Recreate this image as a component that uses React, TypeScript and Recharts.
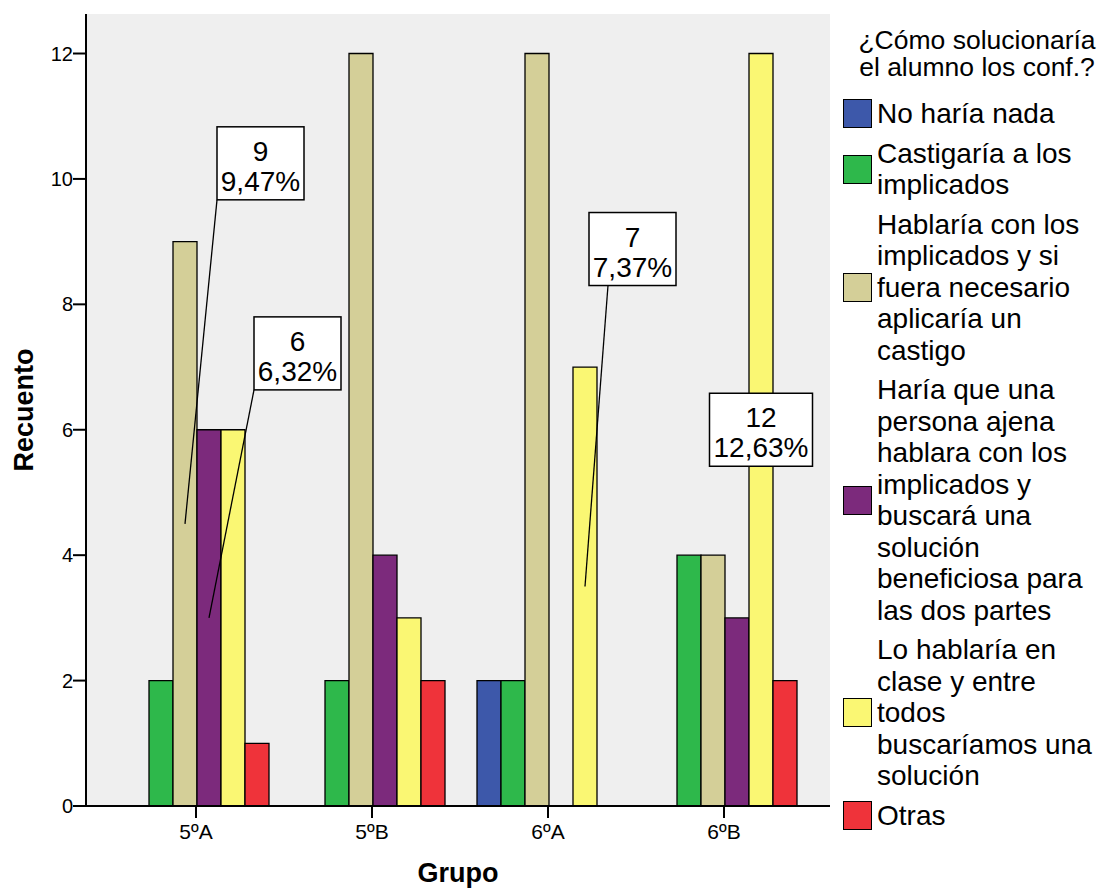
import React from 'react';
import { Bar, BarChart, XAxis, YAxis, CartesianGrid, LabelList } from 'recharts';

const groups = ['5ºA', '5ºB', '6ºA', '6ºB'];

const noHaria = [0, 0, 2, 0];
const castigaria = [2, 2, 2, 4];
const hablaria = [9, 12, 12, 4];
const hariaQue = [6, 4, 0, 3];
const loHablaria = [6, 3, 7, 12];
const otras = [1, 2, 0, 2];

const yTicks = [0, 2, 4, 6, 8, 10, 12];

const series = [
  { key: 'noHaria', name: 'No haría nada', values: noHaria, color: '#3d58aa', lines: ['No haría nada'] },
  { key: 'castigaria', name: 'Castigaría a los implicados', values: castigaria, color: '#2eb84b', lines: ['Castigaría a los', 'implicados'] },
  {
    key: 'hablaria',
    name: 'Hablaría con los implicados y si fuera necesario aplicaría un castigo',
    values: hablaria,
    color: '#d4cf98',
    lines: ['Hablaría con los', 'implicados y si', 'fuera necesario', 'aplicaría un', 'castigo'],
  },
  {
    key: 'hariaQue',
    name: 'Haría que una persona ajena hablara con los implicados y buscará una solución beneficiosa para las dos partes',
    values: hariaQue,
    color: '#7c2a7c',
    lines: ['Haría que una', 'persona ajena', 'hablara con los', 'implicados y', 'buscará una', 'solución', 'beneficiosa para', 'las dos partes'],
  },
  {
    key: 'loHablaria',
    name: 'Lo hablaría en clase y entre todos buscaríamos una solución',
    values: loHablaria,
    color: '#faf773',
    lines: ['Lo hablaría en', 'clase y entre', 'todos', 'buscaríamos una', 'solución'],
  },
  { key: 'otras', name: 'Otras', values: otras, color: '#ef333a', lines: ['Otras'] },
];

const data = groups.map((g, i) => {
  const row: { [k: string]: string | number } = { group: g };
  series.forEach((s) => (row[s.key] = s.values[i]));
  return row;
});

const total = series.reduce((acc, s) => acc + s.values.reduce((a, b) => a + b, 0), 0);

// callout boxes: offset of box top-left from the bar's mid point
const callouts = [
  { key: 'hablaria', group: 0, dx: 32, dy: -397, lineDx: 0 },
  { key: 'hariaQue', group: 0, dx: 45, dy: -301, lineDx: 0 },
  { key: 'loHablaria', group: 2, dx: 4, dy: -374, lineDx: 19 },
  { key: 'loHablaria', group: 3, center: true },
];

const FONT = '"Liberation Sans", Arial, sans-serif';

let ctx: CanvasRenderingContext2D | null = null;
const measure = (txt: string, size: number) => {
  if (!ctx) ctx = document.createElement('canvas').getContext('2d');
  if (!ctx) return txt.length * size * 0.55;
  ctx.font = `${size}px "Liberation Sans", Arial`;
  return ctx.measureText(txt).width;
};

const makeCallout = (key: string) => (props: any) => {
  const { index, value } = props;
  const c = callouts.find((o) => o.key === key && o.group === index);
  if (!c || !value) return null;
  const vb = props.viewBox || props;
  const ax = vb.x + vb.width / 2;
  const ay = vb.y + vb.height / 2;
  const pct = ((value / total) * 100).toFixed(2).replace('.', ',') + '%';
  const w = Math.round(measure(pct, 28)) + 8;
  const h = 73;
  const left = c.center ? ax - w / 2 : ax + (c.dx as number);
  const top = c.center ? ay - h / 2 : ay + (c.dy as number);
  return (
    <g>
      {!c.center && (
        <line x1={ax} y1={ay} x2={left + (c.lineDx as number)} y2={top + h} stroke="#000" strokeWidth={1.3} />
      )}
      <rect x={left} y={top} width={w} height={h} fill="#fff" stroke="#000" strokeWidth={1.5} />
      <text x={left + w / 2} y={top + 34} textAnchor="middle" fontSize={28} fontFamily={FONT} fill="#000">
        {value}
      </text>
      <text x={left + w / 2} y={top + 64} textAnchor="middle" fontSize={28} fontFamily={FONT} fill="#000">
        {pct}
      </text>
    </g>
  );
};

const XTick = (props: any) => {
  const { x, y, payload } = props;
  return (
    <text x={x} y={y + 15} textAnchor="middle" style={{ fontSize: 21, fontFamily: FONT }} fill="#000">
      {payload.value}
    </text>
  );
};

const YTick = (props: any) => {
  const { x, y, payload } = props;
  return (
    <text x={x} y={y + 7} textAnchor="end" style={{ fontSize: 20, fontFamily: FONT }} fill="#000">
      {payload.value}
    </text>
  );
};

const YTitle = (props: any) => {
  const vb = props.viewBox;
  const cy = vb.y + vb.height / 2;
  return (
    <text x={33} y={cy} transform={`rotate(-90, 33, ${cy})`} textAnchor="middle" fontSize={27} fontWeight="bold" fontFamily={FONT} fill="#000">
      Recuento
    </text>
  );
};

const XTitle = (props: any) => {
  const vb = props.viewBox;
  return (
    <text x={vb.x + vb.width / 2} y={vb.y + 76} textAnchor="middle" fontSize={27} fontWeight="bold" fontFamily={FONT} fill="#000">
      Grupo
    </text>
  );
};

const Legend = () => (
  <div style={{ position: 'absolute', left: 843, top: 27, width: 268, fontFamily: FONT, color: '#000' }}>
    <div style={{ fontSize: 26.5, lineHeight: '27px', textAlign: 'center', marginBottom: 17 }}>
      ¿Cómo solucionaría
      <br />
      el alumno los conf.?
    </div>
    {series.map((s) => (
      <div key={s.key} style={{ display: 'flex', alignItems: 'center', marginBottom: 8 }}>
        <div style={{ width: 27, height: 27, background: s.color, border: '1.5px solid #000', flexShrink: 0, marginRight: 5 }} />
        <div style={{ fontSize: 28, lineHeight: '31.5px', whiteSpace: 'nowrap' }}>
          {s.lines.map((l, i) => (
            <div key={i}>{l}</div>
          ))}
        </div>
      </div>
    ))}
  </div>
);

export default function App() {
  return (
    <div style={{ position: 'absolute', left: 0, top: 0, width: 1111, height: 888, background: '#fff' }}>
      <BarChart
        width={1111}
        height={888}
        data={data}
        margin={{ top: 14, right: 281, bottom: 0, left: 0 }}
        barCategoryGap={17}
        barGap={0}
      >
        <CartesianGrid fill="#efefef" horizontal={false} vertical={false} />
        <XAxis
          dataKey="group"
          height={82}
          padding={{ left: 22, right: 18 }}
          tickSize={12}
          tickMargin={6}
          tick={(p: any) => <XTick {...p} />}
          axisLine={{ stroke: '#000', strokeWidth: 2 }}
          tickLine={{ stroke: '#000', strokeWidth: 2 }}
          label={<XTitle />}
        />
        <XAxis
          xAxisId="top"
          dataKey="group"
          orientation="top"
          height={0}
          tick={false}
          tickLine={false}
          axisLine={{ stroke: '#000', strokeWidth: 2 }}
        />
        <YAxis
          width={86}
          domain={[0, 12.63]}
          ticks={yTicks}
          allowDataOverflow
          interval={0}
          tickSize={13}
          tickMargin={0}
          tick={(p: any) => <YTick {...p} />}
          axisLine={{ stroke: '#000', strokeWidth: 2 }}
          tickLine={{ stroke: '#000', strokeWidth: 2 }}
          label={<YTitle />}
        />
        <YAxis
          yAxisId="right"
          orientation="right"
          width={0}
          domain={[0, 12.63]}
          tick={false}
          tickLine={false}
          axisLine={{ stroke: '#000', strokeWidth: 2 }}
        />
        {series.map((s) => (
          <Bar key={s.key} dataKey={s.key} name={s.name} fill={s.color} stroke="#000" strokeWidth={1.3} isAnimationActive={false}>
            <LabelList dataKey={s.key} content={makeCallout(s.key)} />
          </Bar>
        ))}
      </BarChart>
      <Legend />
    </div>
  );
}
